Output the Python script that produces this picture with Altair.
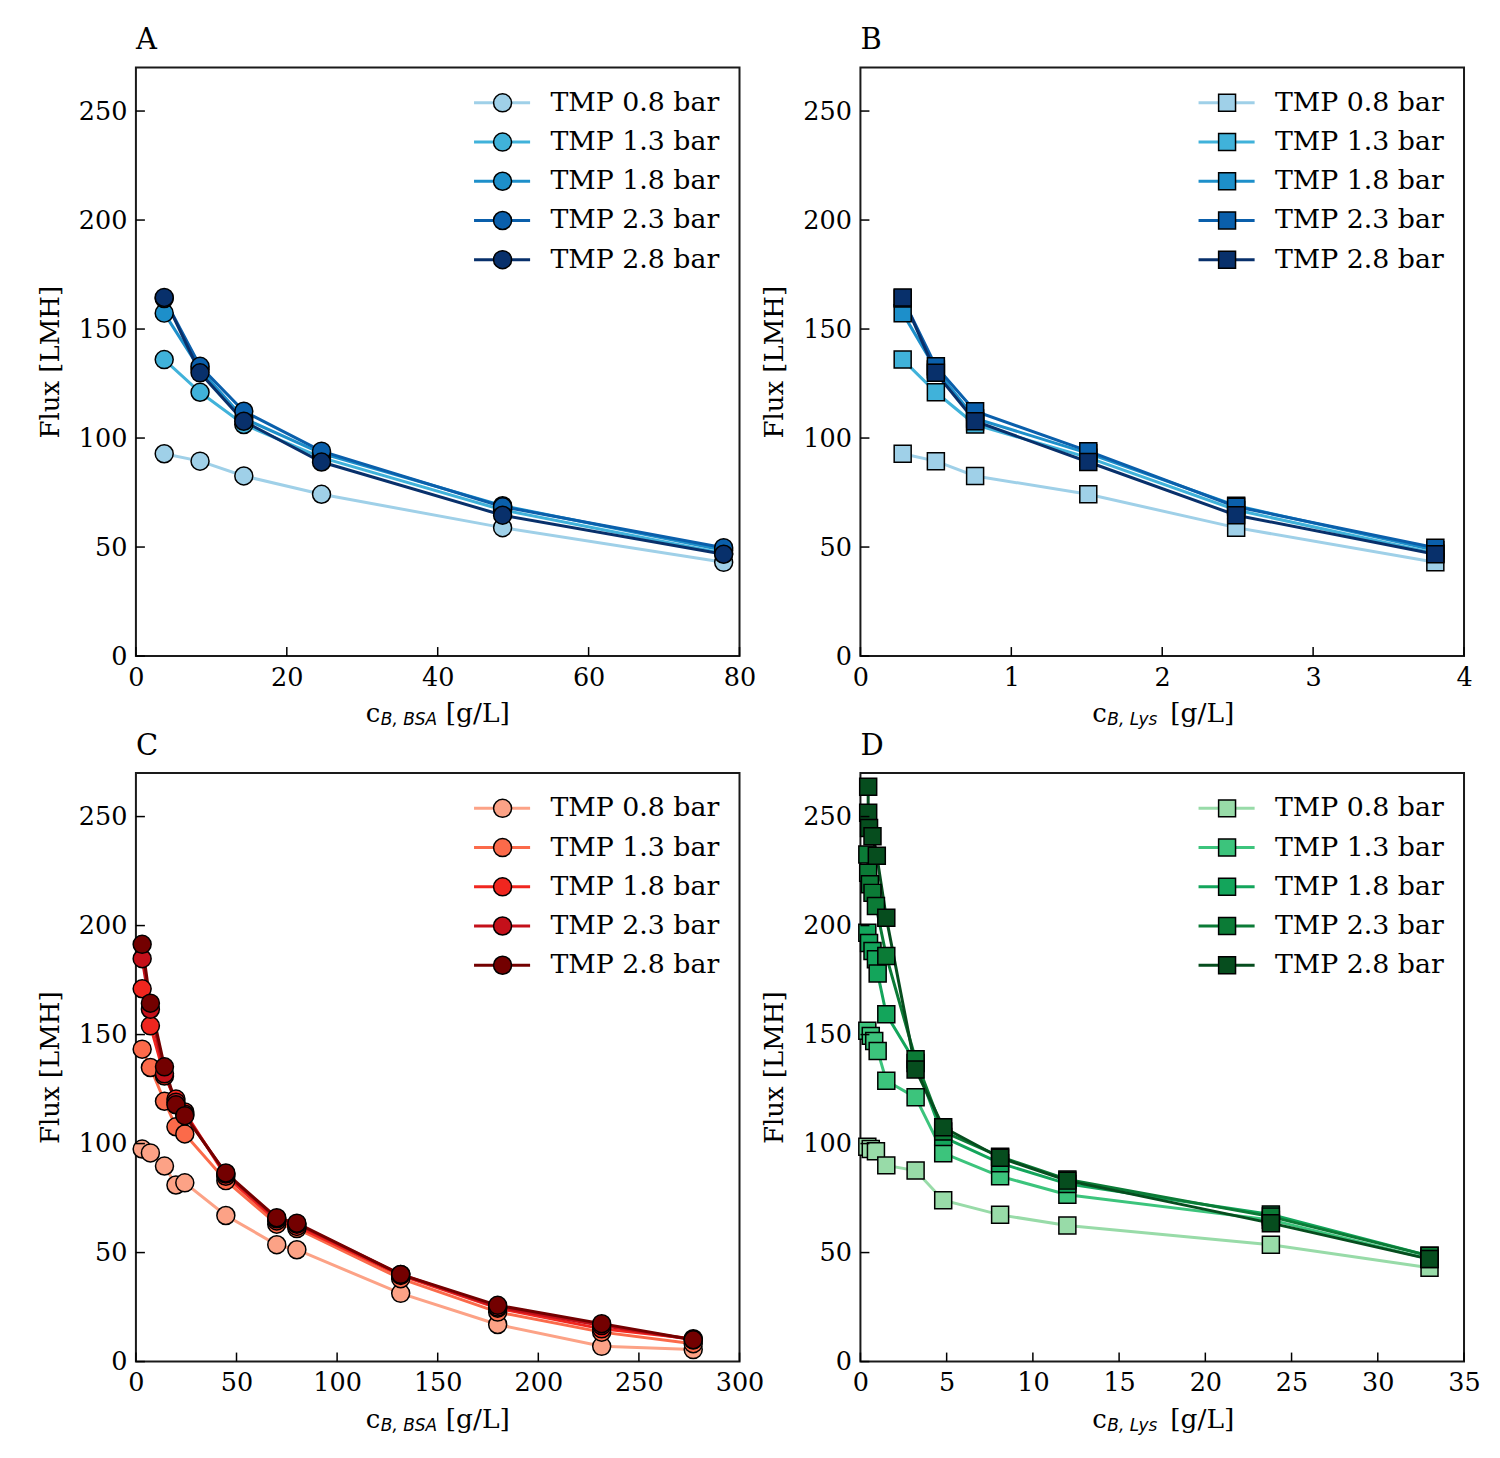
import altair as alt
import pandas as pd

# series names shared by all four panels
TMP_LABELS = ["TMP 0.8 bar", "TMP 1.3 bar", "TMP 1.8 bar", "TMP 2.3 bar", "TMP 2.8 bar"]
Y_TICKS = [0, 50, 100, 150, 200, 250]

# panel A: BSA concentration
A_X = [3.75, 8.5, 14.3, 24.6, 48.6, 77.9]
A_08 = [92.8, 89.4, 82.6, 74.2, 58.9, 43.0]
A_13 = [136.0, 121.0, 106.2, 91.0, 67.0, 47.0]
A_18 = [157.3, 131.5, 109.0, 93.0, 69.0, 48.5]
A_23 = [164.0, 132.9, 112.3, 94.0, 68.5, 49.7]
A_28 = [164.5, 129.9, 107.7, 89.0, 64.6, 46.7]

# panel B: Lys concentration (flux values read identical to A)
B_X = [0.28, 0.50, 0.76, 1.51, 2.49, 3.81]
B_08 = [92.8, 89.4, 82.6, 74.2, 58.9, 43.0]
B_13 = [136.0, 121.0, 106.2, 91.0, 67.0, 47.0]
B_18 = [157.3, 131.5, 109.0, 93.0, 69.0, 48.5]
B_23 = [164.0, 132.9, 112.3, 94.0, 68.5, 49.7]
B_28 = [164.5, 129.9, 107.7, 89.0, 64.6, 46.7]

# panel C: BSA, wider range
C_X = [3.1, 7.2, 14.2, 19.9, 24.3, 44.7, 70.0, 80.0, 131.6, 179.8, 231.5, 277.0]
C_08 = [97.5, 95.7, 89.7, 81.0, 82.0, 67.0, 53.6, 51.3, 31.3, 17.0, 7.0, 5.5]
C_13 = [143.3, 134.9, 119.4, 107.7, 104.4, 83.0, 63.0, 61.0, 38.0, 22.7, 13.5, 8.2]
C_18 = [171.0, 154.0, 131.0, 120.4, 114.5, 85.0, 64.5, 62.0, 39.5, 24.5, 15.0, 10.5]
C_23 = [184.8, 161.6, 132.0, 119.0, 113.5, 86.0, 65.5, 63.0, 40.0, 25.0, 16.5, 10.0]
C_28 = [191.4, 164.4, 135.2, 117.8, 112.8, 86.5, 66.0, 63.5, 40.0, 25.8, 17.4, 10.0]

# panel D: Lys, wider range (uneven points per series)
D_X_08 = [0.4, 0.6, 0.9, 1.5, 3.2, 4.8, 8.1, 12.0, 23.8, 33.0]
D_08 = [98.5, 97.5, 96.5, 90.0, 87.6, 74.0, 67.3, 62.4, 53.6, 43.0]
D_X_13 = [0.4, 0.6, 0.8, 1.0, 1.5, 3.2, 4.8, 8.1, 12.0, 23.8, 33.0]
D_13 = [151.7, 149.4, 147.0, 142.5, 128.8, 121.2, 95.6, 85.0, 76.5, 65.0, 47.0]
D_X_18 = [0.4, 0.5, 0.7, 0.9, 1.0, 1.5, 3.2, 4.8, 8.1, 12.0, 23.8, 33.0]
D_18 = [196.7, 192.0, 188.3, 184.5, 178.0, 159.3, 137.0, 103.0, 91.0, 81.5, 67.5, 48.5]
D_X_23 = [0.4, 0.45, 0.55, 0.7, 0.9, 1.5, 3.2, 4.8, 8.1, 12.0, 23.8, 33.0]
D_23 = [232.6, 224.2, 218.9, 215.0, 209.0, 186.0, 138.7, 105.5, 94.0, 83.5, 66.5, 48.5]
D_X_28 = [0.45, 0.45, 0.5, 0.7, 0.95, 1.5, 3.2, 4.8, 8.1, 12.0, 23.8, 33.0]
D_28 = [263.7, 251.8, 244.8, 241.0, 232.0, 203.6, 134.0, 107.5, 93.5, 83.0, 63.5, 47.0]

BLUES = ["#9fd0e8", "#40b2da", "#1d8fca", "#0a5fab", "#08306b"]
REDS = ["#fca286", "#fb6a4a", "#f0261f", "#c4101a", "#730000"]
GREENS = ["#98dba8", "#3cc47c", "#13a55b", "#0b7b36", "#064d1e"]

W, H = 604, 589
SERIF = "DejaVu Serif"
# marker legend gets its own (hidden) labels so it is not merged with the line legend
MARK_LABELS = [n + " " for n in TMP_LABELS]

# legend symbols drawn as custom paths in a 22px box so both legends share row heights
LEG_SIZE = 484
LINE_PATH = "M-2.55,0 L2.55,0"
CIRCLE_PATH = "M-0.82,0 A0.82,0.82 0 1,1 0.82,0 A0.82,0.82 0 1,1 -0.82,0 Z"
SQUARE_PATH = "M-0.77,-0.77 L0.77,-0.77 L0.77,0.77 L-0.77,0.77 Z"


def long_df(xs, ys):
    rows = []
    for name, mname, x_list, y_list in zip(TMP_LABELS, MARK_LABELS, xs, ys):
        for i, (x, y) in enumerate(zip(x_list, y_list)):
            rows.append({"x": x, "flux": y, "series": name, "series2": mname, "idx": i})
    return pd.DataFrame(rows)


def text_piece(txt, x, y, font, size, style="normal"):
    return alt.Chart(pd.DataFrame({"t": [txt]})).mark_text(
        align="left", baseline="alphabetic", font=font, fontSize=size,
        fontStyle=style, color="black"
    ).encode(text="t:N", x=alt.value(x), y=alt.value(y))


def panel(df, letter, x_dom, x_ticks, colors, shape, msize, sub, cx):
    xscale = alt.Scale(domain=x_dom, nice=False, zero=False)
    yscale = alt.Scale(domain=[0, 270], nice=False)
    leg_common = dict(title=None, orient="none", legendY=22,
                      symbolSize=LEG_SIZE, labelOffset=35, labelLimit=400,
                      labelFont=SERIF, labelFontSize=26.8, rowPadding=11.25, padding=0)
    lines = alt.Chart(df).mark_line(strokeWidth=3).encode(
        x=alt.X("x:Q", scale=xscale, axis=alt.Axis(values=x_ticks, title=None, format="d")),
        y=alt.Y("flux:Q", scale=yscale,
                axis=alt.Axis(values=Y_TICKS, title="Flux [LMH]", titlePadding=15)),
        color=alt.Color("series:N", scale=alt.Scale(domain=TMP_LABELS, range=colors),
                        legend=alt.Legend(symbolType=LINE_PATH, symbolStrokeWidth=3,
                                          legendX=353, labelColor="black", **leg_common)),
        order="idx:Q",
    )
    points = alt.Chart(df).mark_point(
        filled=True, shape=shape, size=msize, stroke="black", strokeWidth=1.5, opacity=1
    ).encode(
        x="x:Q",
        y="flux:Q",
        fill=alt.Fill("series2:N", scale=alt.Scale(domain=MARK_LABELS, range=colors),
                      legend=alt.Legend(symbolType=CIRCLE_PATH if shape == "circle" else SQUARE_PATH,
                                        symbolStrokeColor="black", symbolStrokeWidth=1.5,
                                        symbolOpacity=1, labelOpacity=0, legendX=353.5,
                                        **leg_common)),
    )
    # inward ticks, as in the original
    xt = alt.Chart(pd.DataFrame({"x": x_ticks})).mark_rule(color="black", strokeWidth=1.5).encode(
        x="x:Q", y=alt.value(H), y2=alt.value(H - 9)
    )
    yt = alt.Chart(pd.DataFrame({"flux": Y_TICKS})).mark_rule(color="black", strokeWidth=1.5).encode(
        y="flux:Q", x=alt.value(0), x2=alt.value(9)
    )
    # x title: c with italic subscript
    t1 = text_piece("c", cx, H + 66, SERIF, 26)
    t2 = text_piece(sub, cx + 15, H + 69, "DejaVu Sans", 17, "italic")
    t3 = text_piece("[g/L]", 310, H + 66, SERIF, 26.5)
    return alt.layer(lines, points, xt, yt, t1, t2, t3).properties(
        width=W, height=H,
        title=alt.TitleParams(letter, anchor="start", frame="group", font=SERIF, fontSize=29,
                              fontWeight="normal", offset=12, color="black"),
    )


a = panel(long_df([A_X] * 5, [A_08, A_13, A_18, A_23, A_28]), "A", [0, 80],
          [0, 20, 40, 60, 80], BLUES, "circle", 324, "B, BSA", 230)
b = panel(long_df([B_X] * 5, [B_08, B_13, B_18, B_23, B_28]), "B", [0, 4],
          [0, 1, 2, 3, 4], BLUES, "square", 289, "B, Lys", 232)
c = panel(long_df([C_X] * 5, [C_08, C_13, C_18, C_23, C_28]), "C", [0, 300],
          [0, 50, 100, 150, 200, 250, 300], REDS, "circle", 324, "B, BSA", 230)
d = panel(long_df([D_X_08, D_X_13, D_X_18, D_X_23, D_X_28], [D_08, D_13, D_18, D_23, D_28]),
          "D", [0, 35], [0, 5, 10, 15, 20, 25, 30, 35], GREENS, "square", 289, "B, Lys", 232)

chart = (
    alt.concat(a, b, c, d, columns=2, spacing={"row": 117, "column": 121}, bounds="flush")
    .resolve_scale(x="independent", y="independent", color="independent", fill="independent")
    .resolve_legend(color="independent", fill="independent")
    .properties(padding={"left": 28, "top": 17, "right": 10, "bottom": 10})
    .configure_view(stroke="#1a1a1a", strokeWidth=2)
    .configure_axis(grid=False, domain=False, ticks=False, tickSize=0,
                    labelFont=SERIF, labelFontSize=25.5, labelColor="black",
                    titleFont=SERIF, titleFontSize=26, titleFontWeight="normal",
                    titleColor="black", labelPadding=9, labelFlush=False)
)

chart.save("out.html", embed_options={"renderer": "svg", "actions": False})
